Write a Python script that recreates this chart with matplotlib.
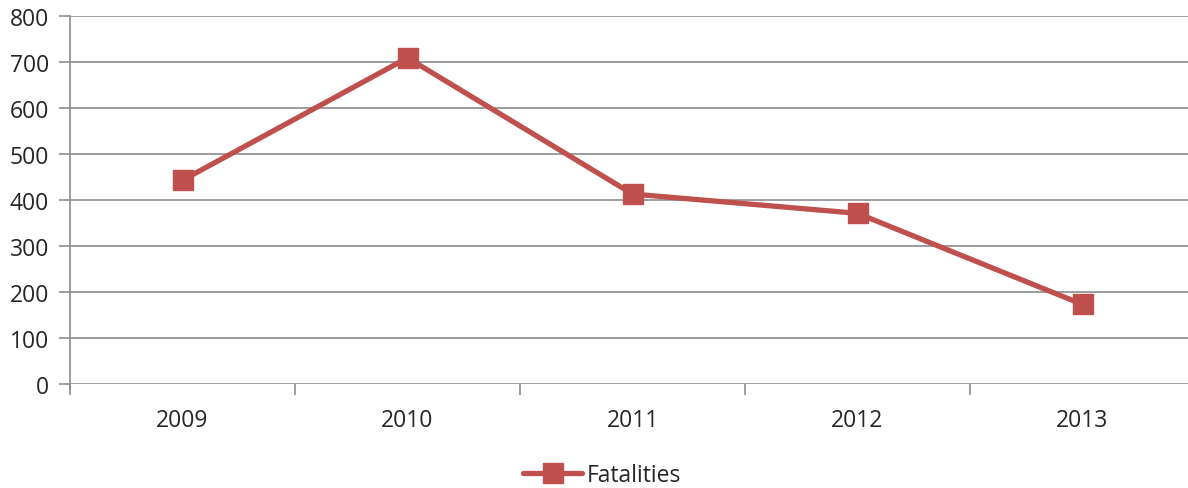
import matplotlib.pyplot as plt
import numpy as np

years = ['2009', '2010', '2011', '2012', '2013']
fatalities = [443, 709, 413, 371, 173]
yticks = [0, 100, 200, 300, 400, 500, 600, 700, 800]

plt.rcParams['font.family'] = ['Open Sans', 'DejaVu Sans']

fig = plt.figure(figsize=(11.88, 4.89), dpi=100)
ax = fig.add_axes([70 / 1188, 104 / 489, 1125 / 1188, 368 / 489])

grid_c = '#8c8c8c'
red = '#C0504D'
txt_c = '#262626'
fs = 16.5
x = np.arange(len(years))

ax.plot(x, fatalities, color=red, lw=3.8, marker='s', ms=15,
        label='Fatalities', solid_capstyle='round', zorder=3)

ax.set_xlim(-0.5, len(years) - 0.5)
ax.set_ylim(0, 800)
ax.set_yticks(yticks)
ax.set_yticklabels([str(v) for v in yticks], fontsize=fs, color=txt_c)
for v in yticks:
    ax.axhline(v, color=grid_c, lw=1.2, zorder=1)

# category labels between boundary ticks
ax.set_xticks(np.arange(len(years) + 1) - 0.5)
ax.set_xticklabels([])
ax.set_xticks(x, minor=True)
ax.set_xticklabels(years, minor=True, fontsize=fs, color=txt_c)
ax.tick_params(axis='x', which='minor', length=0, pad=17)
ax.tick_params(axis='x', which='major', length=8, width=1.2, color=grid_c)
ax.tick_params(axis='y', length=8, width=1.2, color=grid_c, pad=7)

for s in ['top', 'right', 'bottom']:
    ax.spines[s].set_visible(False)
ax.spines['left'].set_color(grid_c)
ax.spines['left'].set_linewidth(1.2)
ax.spines['left'].set_bounds(-8, 800)

leg = fig.legend(loc='center', bbox_to_anchor=(602 / 1188, 1 - 476 / 489),
                 frameon=False, fontsize=fs, handlelength=2.6, handletextpad=0.2)
for t in leg.get_texts():
    t.set_color(txt_c)

fig.savefig('out.png', dpi=100)
